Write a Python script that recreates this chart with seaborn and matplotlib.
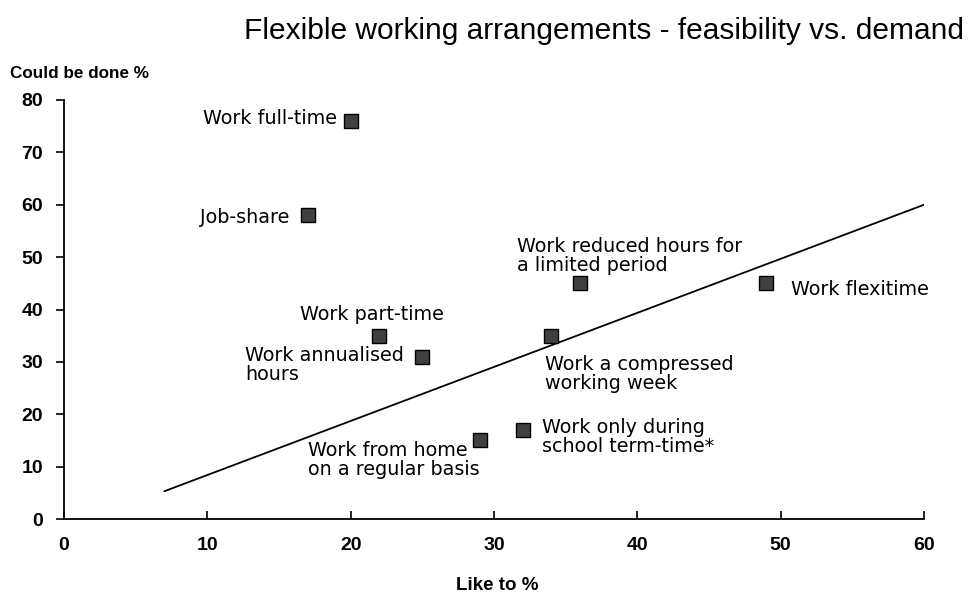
import pandas as pd
import matplotlib.pyplot as plt
import seaborn as sns

# Daten
labels = ["Work full-time", "Job-share", "Work part-time", "Work annualised\nhours",
          "Work from home\non a regular basis", "Work only during\nschool term-time*",
          "Work a compressed\nworking week", "Work reduced hours for\na limited period",
          "Work flexitime"]
like_to = [20, 17, 22, 25, 29, 32, 34, 36, 49]
could_be_done = [76, 58, 35, 31, 15, 17, 35, 45, 45]

x_ticks = [0, 10, 20, 30, 40, 50, 60]
y_ticks = [0, 10, 20, 30, 40, 50, 60, 70, 80]

# Referenzlinie (Endpunkte)
line_x = [7, 60]
line_y = [5.3, 60]

df = pd.DataFrame({"label": labels, "like": like_to, "could": could_be_done})

sns.set_style("ticks")
plt.rcParams["font.family"] = ["DejaVu Sans"]
plt.rcParams["text.color"] = "black"
plt.rcParams["xtick.color"] = "black"
plt.rcParams["ytick.color"] = "black"
plt.rcParams["axes.edgecolor"] = "black"

fig = plt.figure(figsize=(9.68, 5.98), dpi=100)
ax = fig.add_axes([64 / 968, 1 - 519 / 598, 860 / 968, 419 / 598])

sns.lineplot(x=line_x, y=line_y, ax=ax, color="black", linewidth=1.3)
sns.scatterplot(data=df, x="like", y="could", ax=ax, marker="s", s=110,
                color="#404040", edgecolor="black", linewidth=1.0, zorder=3)

# Beschriftungen: (dx, dy) in Pixeln, ha, va
placement = {
    "Work full-time": (-14, 2, "right", "center"),
    "Job-share": (-18, -2, "right", "center"),
    "Work part-time": (-7, 12, "center", "bottom"),
    "Work annualised\nhours": (-18, 11, "right", "top"),
    "Work from home\non a regular basis": (0, -1, "right", "top"),
    "Work only during\nschool term-time*": (19, 12, "left", "top"),
    "Work a compressed\nworking week": (-6, -19, "left", "top"),
    "Work reduced hours for\na limited period": (-63, 8, "left", "bottom"),
    "Work flexitime": (25, -6, "left", "center"),
}
for _, row in df.iterrows():
    dx, dy, ha, va = placement[row["label"]]
    ax.annotate(row["label"], (row["like"], row["could"]), xytext=(dx, dy),
                textcoords="offset pixels", ha=ha, va=va, multialignment="left",
                fontsize=13.8, color="black", linespacing=1.0)

ax.set_xlim(0, 60)
ax.set_ylim(0, 80)
tick_font = dict(fontfamily="Liberation Sans", fontweight="bold", fontsize=14)
ax.set_xticks(x_ticks, labels=[str(v) for v in x_ticks], **tick_font)
ax.set_yticks(y_ticks, labels=[str(v) for v in y_ticks], **tick_font)
ax.tick_params(axis="x", direction="in", length=6, width=1.2, pad=13)
ax.tick_params(axis="y", direction="out", length=6, width=1.2, pad=9)
sns.despine(ax=ax)
for s in ["left", "bottom"]:
    ax.spines[s].set_linewidth(1.3)

ax.set_xlabel("")
ax.set_ylabel("")
fig.text(497 / 968, 1 - 585 / 598, "Like to %", ha="center", va="center",
         fontfamily="Liberation Sans", fontweight="bold", fontsize=13.5)
fig.text(10 / 968, 1 - 73 / 598, "Could be done %", ha="left", va="center",
         fontfamily="Liberation Sans", fontweight="bold", fontsize=12.3)
fig.text(604 / 968, 1 - 31 / 598, "Flexible working arrangements - feasibility vs. demand",
         ha="center", va="center", fontfamily="Liberation Sans", fontsize=21.5)

plt.savefig("out.png", dpi=100)
